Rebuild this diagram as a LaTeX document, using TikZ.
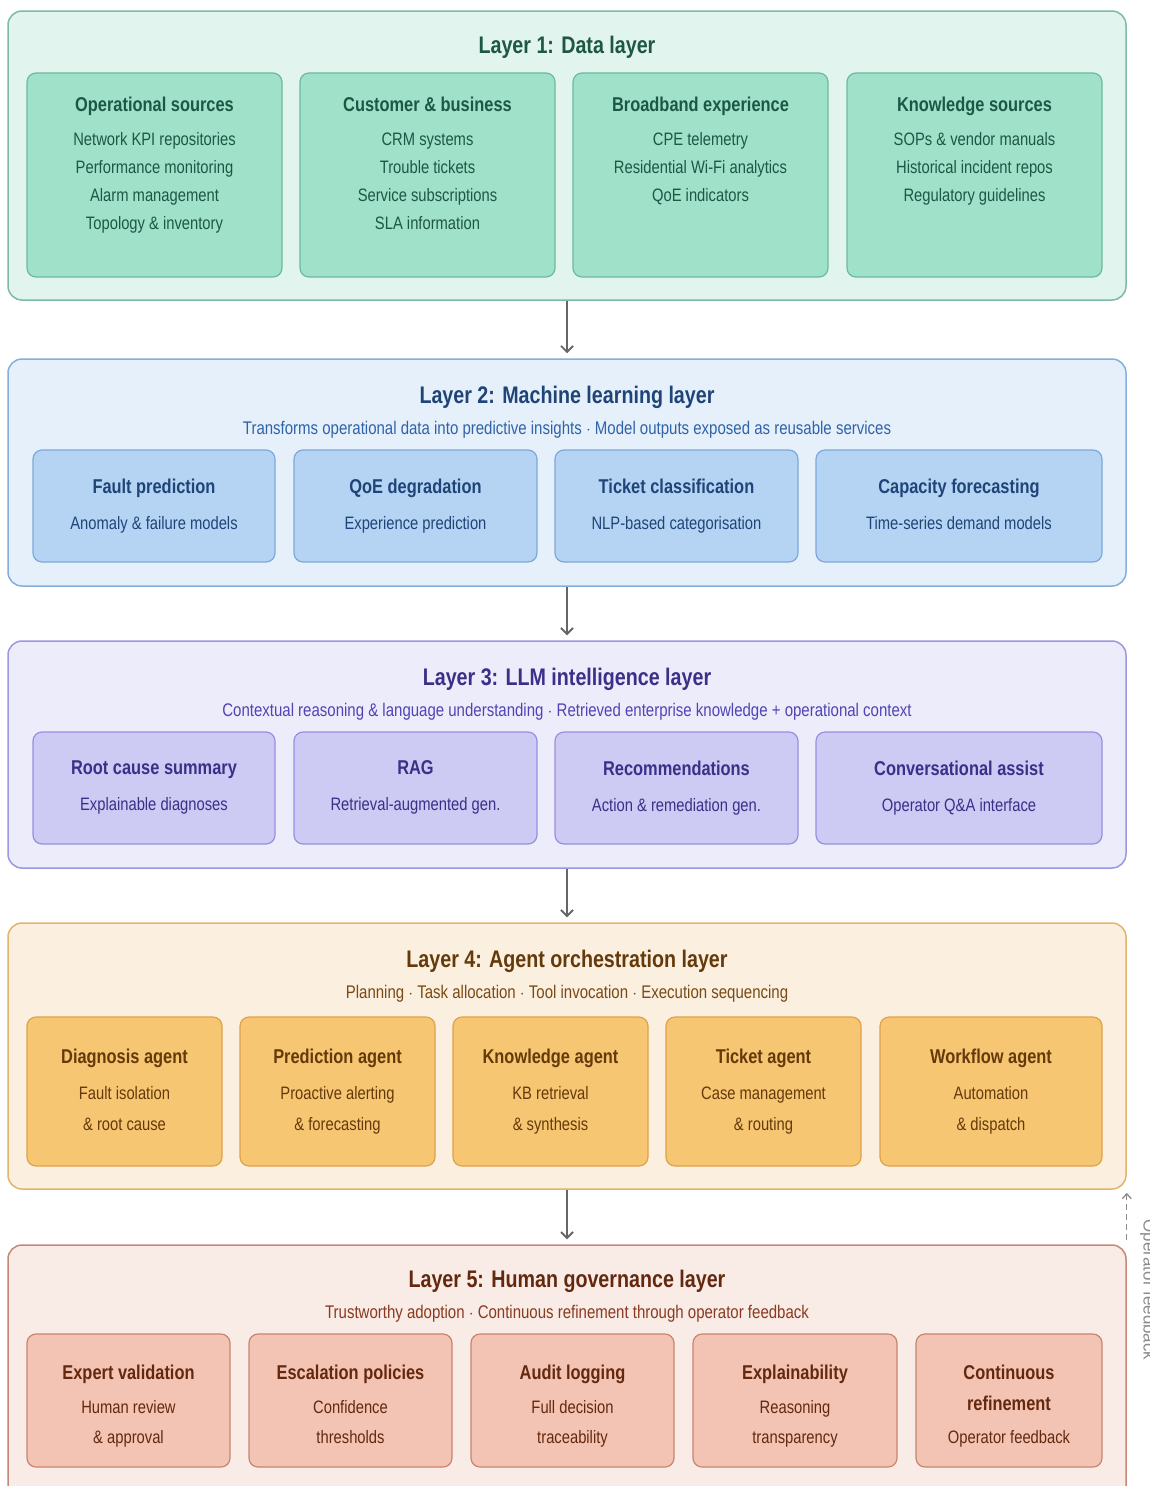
\documentclass[tikz,border=0pt]{standalone}
\usepackage{fontspec}
\setmainfont{Liberation Sans}[FakeStretch=0.82]
\newfontfamily\plainsans{Liberation Sans}
\usetikzlibrary{arrows.meta,positioning}

\definecolor{lonefill}{HTML}{E2F4EE}
\definecolor{loneline}{HTML}{7DBBA3}
\definecolor{lonecard}{HTML}{A0E1CA}
\definecolor{lonecardline}{HTML}{6DBA9C}
\definecolor{loneink}{HTML}{1D5746}
\definecolor{ltwofill}{HTML}{E6F0FB}
\definecolor{ltwoline}{HTML}{85AEDD}
\definecolor{ltwocard}{HTML}{B5D4F3}
\definecolor{ltwocardline}{HTML}{7FA7D9}
\definecolor{ltwoink}{HTML}{1F4478}
\definecolor{ltwosub}{HTML}{2F63A8}
\definecolor{lthreefill}{HTML}{EDECFB}
\definecolor{lthreeline}{HTML}{9C97E3}
\definecolor{lthreecard}{HTML}{CDCAF4}
\definecolor{lthreecardline}{HTML}{9790DF}
\definecolor{lthreeink}{HTML}{3B2F88}
\definecolor{lthreesub}{HTML}{5044B4}
\definecolor{lfourfill}{HTML}{FBEFDF}
\definecolor{lfourline}{HTML}{E2B46C}
\definecolor{lfourcard}{HTML}{F7C673}
\definecolor{lfourcardline}{HTML}{DFA24A}
\definecolor{lfourink}{HTML}{643A0A}
\definecolor{lfoursub}{HTML}{7A4A14}
\definecolor{lfivefill}{HTML}{F9EBE6}
\definecolor{lfiveline}{HTML}{C68876}
\definecolor{lfivecard}{HTML}{F3C4B3}
\definecolor{lfivecardline}{HTML}{C98470}
\definecolor{lfiveink}{HTML}{64280F}
\definecolor{lfivesub}{HTML}{8A3A1E}
\definecolor{arrowgray}{HTML}{666666}
\definecolor{fbgray}{HTML}{8C8C8C}

\newcommand{\cardhead}[1]{{\fontsize{20}{28}\selectfont\bfseries #1}}
% fixed depth for the last line, extra room above the governance headings
\newcommand{\cardtail}{\rule[-4pt]{0pt}{4pt}}
\newcommand{\fivehead}[1]{\cardhead{\rule{0pt}{26.5pt}#1}}

\tikzset{layer/.style={
		draw,
		rounded corners=14pt,
		line width=1.5pt,
		minimum width=1118pt,
		inner sep=0pt},
	card/.style={
		draw,
		rounded corners=9pt,
		line width=1.2pt,
		align=center,
		inner sep=0pt},
	layertitle/.style={font=\fontsize{24}{28}\selectfont\bfseries},
	layersub/.style={font=\fontsize{18.3}{22}\selectfont},
	onecard/.style={card, fill=lonecard, draw=lonecardline, minimum width=255pt, minimum height=204pt},
	onetext/.style={align=center, inner sep=0pt, text=loneink, font=\fontsize{18}{28}\selectfont},
	twocard/.style={card, fill=ltwocard, draw=ltwocardline, text=ltwoink, minimum height=112pt, font=\fontsize{18}{36}\selectfont},
	threecard/.style={card, fill=lthreecard, draw=lthreecardline, text=lthreeink, minimum height=112pt, font=\fontsize{18}{36}\selectfont},
	fourcard/.style={card, fill=lfourcard, draw=lfourcardline, text=lfourink, minimum width=195pt, minimum height=149pt, font=\fontsize{18}{31}\selectfont},
	fivecard/.style={card, fill=lfivecard, draw=lfivecardline, text=lfiveink, minimum width=203pt, minimum height=133pt, font=\fontsize{18}{30}\selectfont},
	down/.style={draw=arrowgray, line width=1.8pt, shorten >=5pt, -{Straight Barb[length=6pt,width=12pt]}},
	feedback/.style={draw=fbgray, line width=1.3pt, dash pattern=on 6pt off 4pt, -{Straight Barb[length=5pt,width=9pt]}}
	}

\begin{document}
\begin{tikzpicture}[x=1pt,y=-1pt]
	\useasboundingbox[fill=white] (0,0) rectangle (1149,1486);

	% layer 1: data
	\node [layer, fill=lonefill, draw=loneline, minimum height=289pt] (l1) at (567,155.5) {};
	\node [layertitle, text=loneink] (l1title) at (567,47) {Layer 1: Data layer};
	\node [onecard] (ops) at (154.5,175) {};
	\node [onecard] (cust) at (427.5,175) {};
	\node [onecard] (bband) at (700.5,175) {};
	\node [onecard] (know) at (974.5,175) {};
	\node [onetext, anchor=north] (opstext) at ([yshift=-24.5pt]ops.north) {\cardhead{Operational sources}\\[6pt]Network KPI repositories\\Performance monitoring\\Alarm management\\Topology \& inventory};
	\node [onetext, anchor=north] (custtext) at ([yshift=-24.5pt]cust.north) {\cardhead{Customer \& business}\\[6pt]CRM systems\\Trouble tickets\\Service subscriptions\\SLA information};
	\node [onetext, anchor=north] (bbandtext) at ([yshift=-24.5pt]bband.north) {\cardhead{Broadband experience}\\[6pt]CPE telemetry\\Residential Wi-Fi analytics\\QoE indicators};
	\node [onetext, anchor=north] (knowtext) at ([yshift=-24.5pt]know.north) {\cardhead{Knowledge sources}\\[6pt]SOPs \& vendor manuals\\Historical incident repos\\Regulatory guidelines};

	% layer 2: machine learning
	\node [layer, fill=ltwofill, draw=ltwoline, minimum height=227pt] (l2) at (567,472.5) {};
	\node [layertitle, text=ltwoink] (l2title) at (567,397) {Layer 2: Machine learning layer};
	\node [layersub, text=ltwosub] (l2sub) at (567,430) {Transforms operational data into predictive insights $\cdot$ Model outputs exposed as reusable services};
	\node [twocard, minimum width=242pt] (fault) at (154,506) {\cardhead{Fault prediction}\\Anomaly \& failure models\cardtail};
	\node [twocard, minimum width=243pt] (qoe) at (415.5,506) {\cardhead{QoE degradation}\\Experience prediction\cardtail};
	\node [twocard, minimum width=243pt] (ticket) at (676.5,506) {\cardhead{Ticket classification}\\NLP-based categorisation\cardtail};
	\node [twocard, minimum width=286pt] (capac) at (959,506) {\cardhead{Capacity forecasting}\\Time-series demand models\cardtail};

	% layer 3: llm
	\node [layer, fill=lthreefill, draw=lthreeline, minimum height=227pt] (l3) at (567,754.5) {};
	\node [layertitle, text=lthreeink] (l3title) at (567,679) {Layer 3: LLM intelligence layer};
	\node [layersub, text=lthreesub] (l3sub) at (567,712) {Contextual reasoning \& language understanding $\cdot$ Retrieved enterprise knowledge + operational context};
	\node [threecard, minimum width=242pt] (rootc) at (154,788) {\cardhead{Root cause summary}\\Explainable diagnoses\cardtail};
	\node [threecard, minimum width=243pt] (rag) at (415.5,788) {\cardhead{RAG}\\Retrieval-augmented gen.\cardtail};
	\node [threecard, minimum width=243pt] (recom) at (676.5,788) {\cardhead{Recommendations}\\Action \& remediation gen.\cardtail};
	\node [threecard, minimum width=286pt] (conv) at (959,788) {\cardhead{Conversational assist}\\Operator Q\&A interface\cardtail};

	% layer 4: agents
	\node [layer, fill=lfourfill, draw=lfourline, minimum height=266pt] (l4) at (567,1056) {};
	\node [layertitle, text=lfourink] (l4title) at (567,961) {Layer 4: Agent orchestration layer};
	\node [layersub, text=lfoursub] (l4sub) at (567,994) {Planning $\cdot$ Task allocation $\cdot$ Tool invocation $\cdot$ Execution sequencing};
	\node [fourcard] (diag) at (124.5,1091.5) {\cardhead{Diagnosis agent}\\[5pt]Fault isolation\\\& root cause\cardtail};
	\node [fourcard] (pred) at (337.5,1091.5) {\cardhead{Prediction agent}\\[5pt]Proactive alerting\\\& forecasting\cardtail};
	\node [fourcard] (kbag) at (550.5,1091.5) {\cardhead{Knowledge agent}\\[5pt]KB retrieval\\\& synthesis\cardtail};
	\node [fourcard] (tkag) at (763.5,1091.5) {\cardhead{Ticket agent}\\[5pt]Case management\\\& routing\cardtail};
	\node [fourcard, minimum width=222pt] (wfag) at (991,1091.5) {\cardhead{Workflow agent}\\[5pt]Automation\\\& dispatch\cardtail};

	% layer 5: governance
	\node [layer, fill=lfivefill, draw=lfiveline, minimum height=262pt] (l5) at (567,1376) {};
	\node [layertitle, text=lfiveink] (l5title) at (567,1281) {Layer 5: Human governance layer};
	\node [layersub, text=lfivesub] (l5sub) at (567,1314) {Trustworthy adoption $\cdot$ Continuous refinement through operator feedback};
	\node [fivecard] (expert) at (128.5,1400.5) {\fivehead{Expert validation}\\[4pt]Human review\\\& approval\cardtail};
	\node [fivecard] (escal) at (350.5,1400.5) {\fivehead{Escalation policies}\\[4pt]Confidence\\thresholds\cardtail};
	\node [fivecard] (audit) at (572.5,1400.5) {\fivehead{Audit logging}\\[4pt]Full decision\\traceability\cardtail};
	\node [fivecard, minimum width=204pt] (explain) at (795,1400.5) {\fivehead{Explainability}\\[4pt]Reasoning\\transparency\cardtail};
	\node [fivecard, minimum width=186pt] (refine) at (1009,1400.5) {\fivehead{Continuous}\\[1pt]\cardhead{refinement}\\[3pt]Operator feedback\cardtail};

	% flow between layers
	\draw [down] (l1.south) -- (l2.north);
	\draw [down] (l2.south) -- (l3.north);
	\draw [down] (l3.south) -- (l4.north);
	\draw [down] (l4.south) -- (l5.north);
	\draw [feedback] ([yshift=4pt]l5.north east) -- ([yshift=-3pt]l4.south east);
	\node [rotate=-90, text=fbgray, font=\plainsans\fontsize{17}{20}\selectfont] (fblabel) at (1148,1290) {Operator feedback};
\end{tikzpicture}
\end{document}
